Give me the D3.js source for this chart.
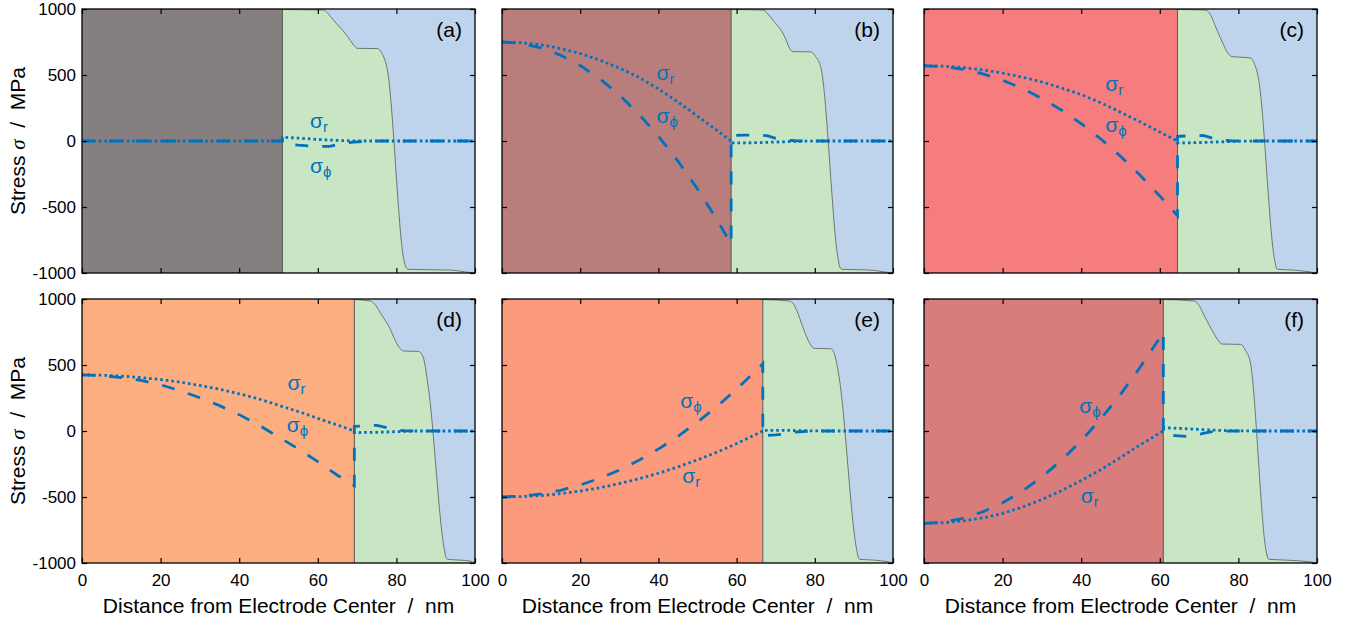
<!DOCTYPE html>
<html><head><meta charset="utf-8">
<script src="https://cdn.jsdelivr.net/npm/d3@7"></script>
<style>
body{margin:0;background:#fff}
svg{display:block}
text{font-family:"Liberation Sans",Arial,Helvetica,sans-serif;fill:#000}
</style>
</head><body>
<svg id="c" width="1357" height="624"></svg>
<script>
// ---------- data ----------
const panelLabels = ["(a)","(b)","(c)","(d)","(e)","(f)"];
const xTicks = [0,20,40,60,80,100];
const yTicks = [1000,500,0,-500,-1000];
const xTitle = "Distance from Electrode Center\u00a0\u00a0/\u00a0\u00a0nm";
const yTitleParts = ["Stress ", "σ", "\u00a0\u00a0/\u00a0\u00a0MPa"];
const electrodeEdge = [51, 58.6, 64.5, 69.3, 66.7, 60.9];

// stresses inside the electrode
const innerX = [
  [0,10,20,30,40,50,51],
  [0,5,10,15,20,25,30,35,40,45,50,55,58.6],
  [0,5,10,15,20,25,30,35,40,45,50,55,60,64.5],
  [0,5,10,15,20,25,30,35,40,45,50,55,60,65,69.3],
  [0,5,10,15,20,25,30,35,40,45,50,55,60,65,66.7],
  [0,5,10,15,20,25,30,35,40,45,50,55,60,60.9]
];
const sigmaRInner = [
  [0,0,0,0,0,0,0],
  [750,745,728,700,663,613,553,482,395,296,188,80,0],
  [570,567,556,539,515,484,447,402,351,290,218,145,68,0],
  [425,423,416,405,390,370,345,316,282,243,195,148,96,45,0],
  [-500,-497,-489,-475,-455,-430,-399,-362,-320,-272,-219,-160,-95,-25,0],
  [-700,-695,-681,-658,-624,-577,-519,-452,-376,-293,-200,-105,-15,0]
];
const sigmaPhiInner = [
  [0,0,0,0,0,0,0],
  [750,739,705,650,572,471,349,204,37,-152,-364,-598,-780],
  [570,563,543,508,460,399,323,234,132,15,-115,-259,-416,-565],
  [425,420,405,383,350,305,252,192,124,45,-45,-135,-232,-335,-415],
  [-500,-494,-477,-449,-409,-358,-296,-222,-137,-40,68,187,317,459,510],
  [-700,-690,-661,-612,-544,-456,-348,-221,-74,92,277,483,707,750]
];
// stresses outside the electrode
const outerRX = [
  [51,55,60,65,70,100],
  [58.6,65,70,75,80,100],
  [64.5,70,75,80,84,100],
  [69.3,75,80,85,100],
  [66.7,72,78,82,100],
  [60.9,65,70,75,80,85,100]
];
const sigmaROuter = [
  [28,22,12,4,0,0],
  [-15,-13,-8,-3,0,0],
  [-15,-12,-7,-2,0,0],
  [-12,-10,-5,0,0],
  [5,5,2,0,0],
  [25,20,12,5,1,0,0]
];
const outerPhiX = [
  [51,55,60,63,66,69,72,76,100],
  [58.6,62,66,68,70,72,75,78,100],
  [64.5,68,71,73,75,78,80,100],
  [69.3,72,75,77,79,82,85,100],
  [66.7,70,73,75,78,80,100],
  [60.9,64,67,69,71,73,76,80,100]
];
const sigmaPhiOuter = [
  [-20,-32,-42,-40,-20,-8,-3,0,0],
  [40,45,45,38,20,8,2,0,0],
  [35,40,42,25,8,2,0,0],
  [35,40,43,30,12,2,0,0],
  [-35,-30,-20,-8,-2,0,0],
  [-30,-35,-42,-35,-18,-6,-1,0,0]
];
// boundary between the green and blue regions
const boundaryX = [
  [51,61.4,62.6,64,67.3,69.2,70,75.1,76.3,77.7,81.9,82.4,83,88,94,97.5,100],
  [58.6,66.7,67.9,69.3,72.3,73.6,74.3,79.0,80.2,81.6,86.0,86.4,86.9,91,95,98,100],
  [64.5,71.5,72.7,74.0,75.3,77.5,78.3,83.0,84.0,85.1,89.2,89.6,90.0,94,97.7,99,100],
  [69.3,73.3,74.5,76,77.9,80.8,81.8,85.6,86.8,88.1,92.2,92.6,93.0,96,98.7,100],
  [66.7,73.5,74.6,75.7,76.9,79.0,79.8,84.1,85.1,86.2,90.7,91.1,91.5,95,98.5,100],
  [60.9,68.7,69.8,71.2,72.8,75.0,75.7,80.6,81.8,83.0,87.0,87.4,87.8,92,97.8,100]
];
const boundaryY = [
  [996,992,965,915,803,725,702,700,665,538,-900,-955,-972,-975,-978,-992,-1000],
  [996,992,965,915,790,700,677,675,640,551,-900,-955,-972,-975,-980,-993,-1000],
  [996,992,965,880,790,660,639,630,590,475,-900,-955,-972,-978,-990,-996,-1000],
  [996,985,960,890,803,630,606,603,560,336,-900,-955,-972,-978,-985,-1000],
  [996,985,960,890,790,650,626,623,575,411,-900,-955,-972,-978,-990,-1000],
  [996,985,960,880,790,680,659,656,610,525,-900,-955,-972,-978,-990,-1000]
];
// label anchor points (data coords): [σr x, σr y, σφ x, σφ y]
const sigmaLabelAt = [
  [58,98,58,-242],
  [39.5,462,39.5,136],
  [46.1,381,46.1,70],
  [52.3,311,52.1,-5],
  [46.1,-396,45.6,172],
  [39.9,-548,39.5,134]
];

// ---------- styles / layout ----------
const electrodeColors = ["#857f7f","#b97e7c","#f57d7d","#fcae80","#fc9a7d","#d87c7c"];
const greenColor = "#c8e6c4", blueColor = "#bed4ec", lineColor = "#0072bd";
const cols = [[82,475],[502,893],[924,1317]];
const rows = [[9,273],[299,563]];

const svg = d3.select("#c");

panelLabels.forEach((lab, i) => {
  const col = i % 3, row = Math.floor(i / 3);
  const x = d3.scaleLinear().domain([0,100]).range(cols[col]);
  const y = d3.scaleLinear().domain([-1000,1000]).range([rows[row][1], rows[row][0]]);
  const g = svg.append("g");
  const x0 = x(0), x1 = x(100), yT = y(1000), yB = y(-1000);

  g.append("clipPath").attr("id","clip"+i).append("rect")
    .attr("x",x0).attr("y",yT).attr("width",x1-x0).attr("height",yB-yT);
  const pg = g.append("g").attr("clip-path","url(#clip"+i+")");

  const edge = electrodeEdge[i];
  pg.append("rect").attr("x",x0).attr("y",yT).attr("width",x(edge)-x0).attr("height",yB-yT)
    .attr("fill",electrodeColors[i]);
  pg.append("rect").attr("x",x(edge)).attr("y",yT).attr("width",x1-x(edge)).attr("height",yB-yT)
    .attr("fill",blueColor);
  const bpts = boundaryX[i].map((v,j)=>[v,boundaryY[i][j]]);
  pg.append("path").datum(bpts)
    .attr("d", d3.area().x(d=>x(d[0])).y0(yB).y1(d=>y(d[1])).curve(d3.curveMonotoneX))
    .attr("fill",greenColor);
  pg.append("path").datum(bpts)
    .attr("d", d3.line().x(d=>x(d[0])).y(d=>y(d[1])).curve(d3.curveMonotoneX))
    .attr("fill","none").attr("stroke","#5a5a5a").attr("stroke-width",0.8);
  pg.append("line").attr("x1",x(edge)).attr("x2",x(edge)).attr("y1",yT).attr("y2",yB)
    .attr("stroke","#4a4a4a").attr("stroke-width",0.9);

  const line = d3.line().x(d=>x(d[0])).y(d=>y(d[1]));
  const rPts = innerX[i].map((v,j)=>[v,sigmaRInner[i][j]])
    .concat(outerRX[i].map((v,j)=>[v,sigmaROuter[i][j]]));
  const pPts = innerX[i].map((v,j)=>[v,sigmaPhiInner[i][j]])
    .concat(outerPhiX[i].map((v,j)=>[v,sigmaPhiOuter[i][j]]));
  pg.append("path").datum(pPts).attr("d",line).attr("fill","none")
    .attr("stroke",lineColor).attr("stroke-width",2.8).attr("stroke-dasharray","13,14");
  pg.append("path").datum(rPts).attr("d",line).attr("fill","none")
    .attr("stroke",lineColor).attr("stroke-width",2.8).attr("stroke-dasharray","2.6,3");

  // sigma labels
  const L = sigmaLabelAt[i];
  const t1 = g.append("text").attr("x",x(L[0])).attr("y",y(L[1])).attr("font-size",21).style("fill",lineColor);
  t1.append("tspan").text("σ");
  t1.append("tspan").attr("dy",4).attr("font-size",15).text("r");
  const t2 = g.append("text").attr("x",x(L[2])).attr("y",y(L[3])).attr("font-size",21).style("fill",lineColor);
  t2.append("tspan").text("σ");
  t2.append("tspan").attr("dy",4).attr("font-size",15).text("ϕ");

  // axes
  const fmt = d => String(d);
  const ax = (gen, tx, ty, labels, pad) => {
    const a = g.append("g").attr("transform",`translate(${tx},${ty})`)
      .call(gen.tickSizeInner(-5).tickSizeOuter(0).tickPadding(pad).tickFormat(labels ? fmt : ""));
    a.select(".domain").remove();
    a.selectAll(".tick line").attr("stroke","#000").attr("stroke-width",1.2);
    a.selectAll("text").attr("font-size",17).attr("font-family","Liberation Sans, Arial, sans-serif").attr("fill","#000");
    return a;
  };
  ax(d3.axisBottom(x).tickValues(xTicks), 0, yB, row===1, 11);
  ax(d3.axisTop(x).tickValues(xTicks), 0, yT, false, 3);
  ax(d3.axisLeft(y).tickValues(yTicks), x0, 0, col===0, 6);
  ax(d3.axisRight(y).tickValues(yTicks), x1, 0, false, 3);

  g.append("rect").attr("x",x0).attr("y",yT).attr("width",x1-x0).attr("height",yB-yT)
    .attr("fill","none").attr("stroke","#000").attr("stroke-width",1.3);

  g.append("text").attr("x",x1-13).attr("y",yT+28).attr("text-anchor","end")
    .attr("font-size",21).text(lab);

  if (row===1) {
    g.append("text").attr("x",(x0+x1)/2).attr("y",613).attr("text-anchor","middle")
      .attr("font-size",21).text(xTitle);
  }
  if (col===0) {
    const t = g.append("text").attr("transform",`translate(25,${(yT+yB)/2}) rotate(-90)`)
      .attr("text-anchor","middle").attr("font-size",21);
    t.append("tspan").text(yTitleParts[0]);
    t.append("tspan").attr("font-family","Liberation Serif, Times New Roman, serif").attr("font-style","italic").text(yTitleParts[1]);
    t.append("tspan").text(yTitleParts[2]);
  }
});
</script>
</body></html>
